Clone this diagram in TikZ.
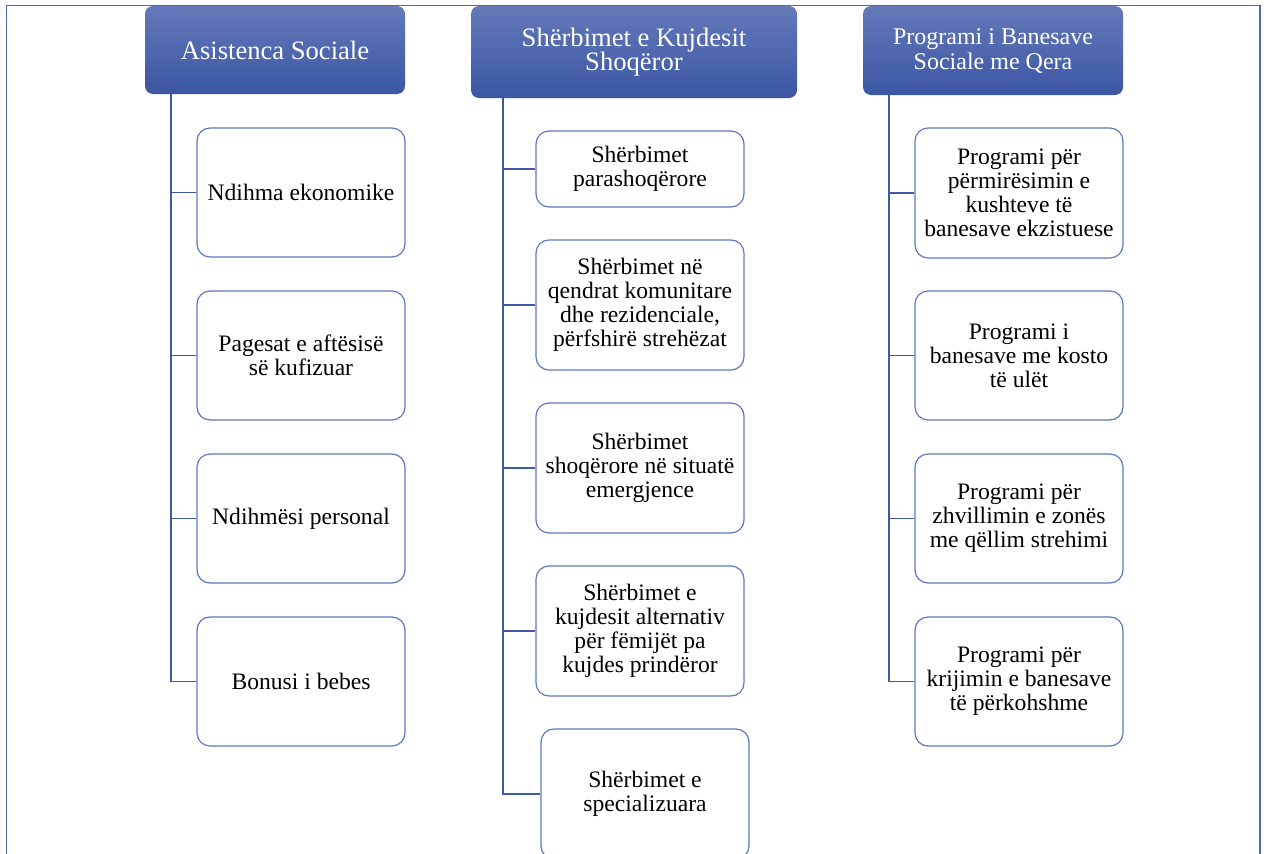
\documentclass[tikz,border=0pt]{standalone}
\usepackage{fontspec}
\setmainfont{Liberation Serif}
\definecolor{frameblue}{HTML}{4A68B6}
\definecolor{boxblue}{HTML}{5B79C0}
\definecolor{linkblue}{HTML}{4059A2}
\definecolor{headtop}{HTML}{6479B9}
\definecolor{headbot}{HTML}{3B56A4}
\tikzset{
  x=1pt,y=-1pt,
  head/.style={rectangle, rounded corners=8pt, top color=headtop, bottom color=headbot,
    draw=none, text=white, align=center, inner sep=0pt,
    font=\fontsize{26.6}{24.5}\selectfont},
  child/.style={rectangle, rounded corners=13pt, draw=boxblue, line width=1.2pt, fill=white,
    minimum width=208pt, align=center, inner sep=0pt, text=black,
    font=\fontsize{23.6}{24}\selectfont},
  link/.style={draw=linkblue, line width=1.5pt},
}
\begin{document}
\begin{tikzpicture}
\useasboundingbox (0,0) rectangle (1264,854);
\fill[white] (0,0) rectangle (1264,854);
\draw[frameblue, line width=1.7pt] (6.5,870) -- (6.5,5.5) -- (1260,5.5) -- (1260,870);

% headers
\node[head, minimum width=260pt, minimum height=88pt] (h1) at (275,50) {Asistenca Sociale};
\node[head, minimum width=326pt, minimum height=92pt] (h2) at (634,52) {Shërbimet e Kujdesit\\Shoqëror};
\node[head, minimum width=260pt, minimum height=89pt, font=\fontsize{24}{25}\selectfont] (h3) at (993,50.5) {Programi i Banesave\\Sociale me Qera};

% column 1
\node[child, minimum height=129pt] (a1) at (301,192.5) {Ndihma ekonomike};
\node[child, minimum height=129pt] (a2) at (301,355.5) {Pagesat e aftësisë\\së kufizuar};
\node[child, minimum height=129pt] (a3) at (301,518.5) {Ndihmësi personal};
\node[child, minimum height=129pt] (a4) at (301,681.5) {Bonusi i bebes};

% column 2
\node[child, minimum height=76pt] (b1) at (640,169) {Shërbimet\\parashoqërore};
\node[child, minimum height=130pt] (b2) at (640,305) {Shërbimet në\\qendrat komunitare\\dhe rezidenciale,\\përfshirë strehëzat};
\node[child, minimum height=130pt] (b3) at (640,468) {Shërbimet\\shoqërore në situatë\\emergjence};
\node[child, minimum height=130pt] (b4) at (640,631) {Shërbimet e\\kujdesit alternativ\\për fëmijët pa\\kujdes prindëror};
\node[child, minimum height=130pt] (b5) at (645,794) {Shërbimet e\\specializuara};

% column 3
\node[child, minimum height=130pt] (c1) at (1019,193) {Programi për\\përmirësimin e\\kushteve të\\banesave ekzistuese};
\node[child, minimum height=129pt] (c2) at (1019,355.5) {Programi i\\banesave me kosto\\të ulët};
\node[child, minimum height=129pt] (c3) at (1019,518.5) {Programi për\\zhvillimin e zonës\\me qëllim strehimi};
\node[child, minimum height=129pt] (c4) at (1019,681.5) {Programi për\\krijimin e banesave\\të përkohshme};

% connectors
\coordinate (v1) at (171,94);
\coordinate (v2) at (503,98);
\coordinate (v3) at (889,95);
\foreach \n in {a1,a2,a3,a4} \draw[link] (v1) |- (\n.west);
\foreach \n in {b1,b2,b3,b4,b5} \draw[link] (v2) |- (\n.west);
\foreach \n in {c1,c2,c3,c4} \draw[link] (v3) |- (\n.west);
\end{tikzpicture}
\end{document}
